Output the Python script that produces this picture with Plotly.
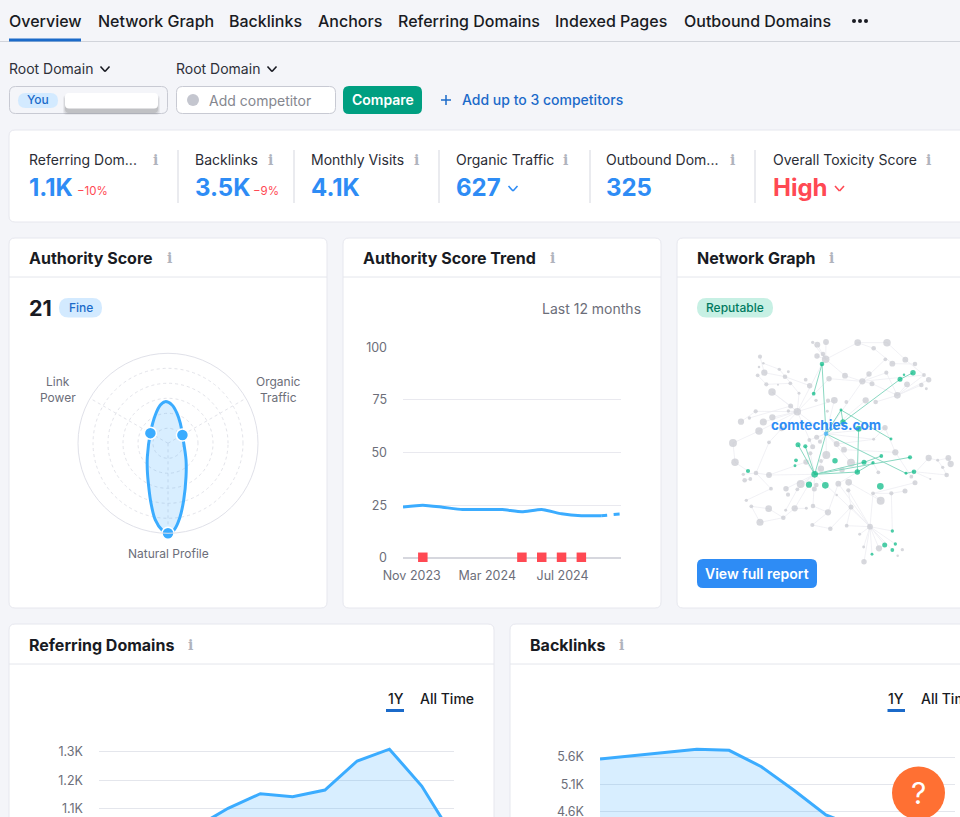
import plotly.graph_objects as go

W, H = 960, 817
FONT = "Inter"
BLUE, LINE, FILL = "#2e8cf5", "#3bacff", "rgba(59,172,255,0.2)"
NAVY, RED, INK, GREY = "#1b6ac9", "#ff4953", "#191b23", "#6c6e79"

# ---------- data ----------
radar_labels = ["Link Power", "Organic Traffic", "Natural Profile"]
radar_theta = [300, 60, 180]
radar_values = [22.6, 18.5, 100]
outline_theta = [356.3, 348.7, 335.9, 300, 237.2, 217.8, 204, 195.8, 189.4, 184, 180, 176, 171.2, 164.5, 151.6, 132.8, 60, 31.7, 16.7, 6, 356.3]
outline_r = [46.4, 43.4, 34.5, 22.6, 27.3, 37.5, 52.7, 69.3, 86.3, 96.5, 100, 96.5, 84.3, 65.3, 42.1, 27.3, 18.5, 26.1, 34.8, 42.8, 46.4]

trend_idx = [0, 1, 2, 3, 4, 5, 6, 7, 8, 9, 10]
trend_vals = [24.1, 25, 24, 22.9, 22.9, 22.9, 21.9, 22.9, 20.9, 20, 20]
trend_last_idx = [10, 11]
trend_last_vals = [20, 20.8]
flag_idx = [1, 6, 7, 8, 9]
flag_vals = [0.2, 0.2, 0.2, 0.2, 0.2]
trend_yticks = [0, 25, 50, 75, 100]
trend_xticks = [0.44, 4.25, 8.05]
trend_xlabels = ["Nov 2023", "Mar 2024", "Jul 2024"]

months = ["Oct 23", "Nov 23", "Dec 23", "Jan 24", "Feb 24", "Mar 24", "Apr 24", "May 24", "Jun 24", "Jul 24", "Aug 24", "Sep 24"]
ref_vals = [1000, 1010, 1020, 1033, 1100, 1152, 1141, 1165, 1268, 1310, 1179, 994]
ref_ticks = [1100, 1200, 1300]
ref_labels = ["1.1K", "1.2K", "1.3K"]
back_vals = [5563, 5622, 5683, 5742, 5723, 5422, 4993, 4534, 4300, 4200, 4100, 4050]
back_ticks = [4600, 5100, 5600]
back_labels = ["4.6K", "5.1K", "5.6K"]

grey_x = [368,382,408,381,399,407,503,591,551,210,220,207,223,203,268,295,285,301,229,264,246,347,359,327,378,417,465,537,517,546,589,586,607,646,675,702,716,694,709,651,622,527,557,469,433,414,302,322,295,197,178,153,220,247,207,275,412,129,135,237,198,237,160,181,164,243,288,322,294,332,358,380,368,390,361,409,440,462,483,348,393,393,456,445,476,379,373,475,440,549,604,645,675,664,616,551,585,565,572,716,743,775,782,758,770,721,483,414,369,349,314,287,280,210,236,184,169,367,421,470,509,540,521,567,637,623,522]
grey_y = [37,44,36,78,72,88,38,38,55,80,100,111,128,136,118,125,140,160,163,164,186,149,167,190,211,146,137,132,154,161,128,88,101,89,102,135,149,165,176,163,196,211,216,216,211,212,228,245,243,244,264,275,276,262,303,296,244,339,397,337,429,435,433,447,451,476,476,478,494,462,330,322,350,335,370,375,342,359,398,396,393,416,420,461,457,465,477,481,495,490,490,483,458,440,367,328,293,427,512,384,391,384,402,412,435,447,531,547,528,535,535,541,563,577,536,529,511,585,596,587,613,590,651,655,659,677,695]
grey_s = [8,14,14,13,11,18,16,18,11,10,6,6,15,9,8,7,11,9,10,5,18,9,13,7,8,13,14,13,15,12,10,9,14,14,11,9,13,11,7,14,16,15,11,9,16,10,12,18,8,10,8,15,17,15,18,12,7,19,18,9,11,14,8,9,11,9,13,9,10,19,9,12,12,10,10,19,14,14,19,13,9,15,13,14,16,11,12,10,6,9,10,12,12,9,15,7,13,9,19,15,7,14,15,8,11,5,12,15,11,7,15,7,11,17,16,9,8,10,11,9,7,14,7,15,8,6,13]
green_x = [396,371,669,630,642,453,459,506,603,324,346,318,315,374,357,406,435,522,549,574,660,502,648,672,571,174,607,584,616,607,546]
green_y = [102,191,128,148,134,240,276,296,327,344,349,391,407,433,464,466,392,397,398,378,382,426,430,425,469,423,603,645,642,660,673]
green_s = [11,9,13,12,6,7,13,14,7,12,10,9,7,16,15,16,13,12,8,9,10,13,7,11,16,10,8,12,8,9,7]
root_x = [408]
root_y = [311]
root_s = [11]
green_edges = [(396,102,371,191),(396,102,408,311),(453,240,408,311),(453,240,459,276),(453,240,603,327),(459,276,630,148),(630,148,669,128),(506,296,502,426),(408,311,374,433),(324,344,374,433),(346,349,374,433),(374,433,502,426),(374,433,522,397),(522,397,574,378),(374,433,660,382),(408,311,648,430),(648,430,672,425),(502,426,549,398),(408,311,459,276)]
grey_edges = [
 (322,245,246,186),(322,245,302,228),(322,245,295,243),(322,245,327,190),(322,245,247,262),(322,245,220,276),(322,245,207,303),(322,245,275,296),(322,245,368,350),(322,245,408,311),(322,245,433,211),(322,245,396,102),(322,245,417,146),(322,245,197,244),
 (540,590,509,613),(540,590,521,651),(540,590,567,655),(540,590,607,603),(540,590,584,645),(540,590,616,642),(540,590,607,660),(540,590,546,673),(540,590,522,695),(540,590,470,587),(540,590,440,495),(540,590,475,481),(540,590,549,490),
 (374,433,409,375),(374,433,393,416),(374,433,332,462),(374,433,348,396),(374,433,288,476),(374,433,322,478),(374,433,314,535),(374,433,369,528),(374,433,361,370),(374,433,440,495),(374,433,237,435),
 (408,311,380,322),(408,311,390,335),(408,311,440,342),(408,311,462,359),(408,311,409,375),(408,311,483,398),(408,311,358,330),(408,311,433,211),(408,311,517,154),(408,311,551,328),(408,311,585,293),(408,311,527,211),
 (622,196,651,163),(622,196,702,135),(622,196,694,165),(622,196,716,149),(622,196,589,128),(622,196,557,216),(622,196,546,161),
 (517,154,702,135),(517,154,465,137),(517,154,537,132),(517,154,589,128),(517,154,417,146),(517,154,546,161),
 (407,88,399,72),(407,88,381,78),(407,88,368,37),(407,88,382,44),(407,88,408,36),(407,88,503,38),(407,88,465,137),
 (503,38,591,38),(503,38,551,55),(591,38,646,89),(551,55,607,101),(607,101,675,102),(646,89,702,135),(586,88,517,154),
 (210,80,223,128),(220,100,268,118),(223,128,285,140),(203,136,229,163),(229,163,301,160),(246,186,302,228),(268,118,327,190),(285,140,359,167),
 (153,275,197,244),(129,339,207,303),(129,339,135,397),(135,397,174,423),(198,429,237,337),(198,429,237,435),(160,433,198,429),(164,451,181,447),(198,429,243,476),(243,476,169,511),(184,529,236,536),(236,536,280,563),(210,577,280,563),(280,563,314,535),(184,529,210,577),(287,541,322,478),(314,535,349,535),(369,528,414,547),(414,547,367,585),(367,585,421,596),(421,596,483,531),(483,531,540,590),(470,587,483,531),(414,547,445,461),(475,481,483,531),(549,490,604,490),(604,490,645,483),(604,490,607,603),(572,512,549,490),(549,490,675,458),(664,440,616,367),(616,367,585,293),(585,293,551,328),(716,384,743,391),(716,384,664,440),(743,391,775,384),(775,384,782,402),(758,412,770,435),(743,391,758,412),(721,447,672,425),(672,425,770,435),(565,427,549,398),(476,457,572,512),(445,461,540,590),(348,396,237,435),(275,296,237,337),(302,228,178,264),(462,359,616,367),(483,398,549,398),(445,461,502,426),(440,342,551,328),
]

nav_labels = ["Overview", "Network Graph", "Backlinks", "Anchors", "Referring Domains", "Indexed Pages", "Outbound Domains"]
kpi_labels = ["Referring Dom...", "Backlinks", "Monthly Visits", "Organic Traffic", "Outbound Dom...", "Overall Toxicity Score"]
kpi_values = ["1.1K", "3.5K", "4.1K", "627", "325", "High"]

# ---------- pixel helpers ----------
def px(x): return x / W
def py(y): return 1 - y / H
shapes, notes = [], []

def rrect(x0, y0, x1, y1, r, fill, line=None, lw=1, layer="below"):
    p0, q0, p1, q1 = px(x0), py(y0), px(x1), py(y1)
    rx, ry = r / W, r / H
    d = (f"M{p0+rx},{q0} L{p1-rx},{q0} Q{p1},{q0} {p1},{q0-ry} L{p1},{q1+ry} Q{p1},{q1} {p1-rx},{q1} "
         f"L{p0+rx},{q1} Q{p0},{q1} {p0},{q1+ry} L{p0},{q0-ry} Q{p0},{q0} {p0+rx},{q0} Z")
    shapes.append(dict(type="path", xref="paper", yref="paper", path=d, fillcolor=fill, layer=layer,
                       line=dict(color=line or "rgba(0,0,0,0)", width=lw if line else 0)))

def seg(x0, y0, x1, y1, color, lw=1, layer="below"):
    shapes.append(dict(type="line", xref="paper", yref="paper", x0=px(x0), y0=py(y0), x1=px(x1), y1=py(y1),
                       line=dict(color=color, width=lw), layer=layer))

def chevron(cx, cy, w, color, lw=1.6):
    seg(cx - w, cy - w * 0.55, cx, cy + w * 0.55, color, lw, "above")
    seg(cx, cy + w * 0.55, cx + w, cy - w * 0.55, color, lw, "above")

def dot(cx, cy, r, color, layer="below"):
    shapes.append(dict(type="circle", xref="paper", yref="paper", x0=px(cx - r), x1=px(cx + r), y0=py(cy - r), y1=py(cy + r),
                       fillcolor=color, line=dict(width=0), layer=layer))

def txt(x, y, s, size=14, color=INK, weight=400, anchor="left", family=FONT):
    notes.append(dict(xref="paper", yref="paper", x=px(x), y=py(y), text=s, showarrow=False, xanchor=anchor, yanchor="middle",
                      borderpad=0, borderwidth=0, font=dict(family=family, size=size, color=color, weight=weight)))

def info(x, y):
    txt(x, y, "i", 14, "#b0b3bd", 700, "center", "DejaVu Serif")

# ---------- page furniture ----------
seg(0, 41.5, W, 41.5, "#d1d4db", 1)
seg(9, 40, 81, 40, NAVY, 3)
for s, x in zip(nav_labels, [9, 98, 229, 318, 398, 555, 683.5]):
    txt(x, 21, s, 16, INK, 500)
for x in [854, 860, 866]:
    dot(x, 21, 2, INK)

for x in (9, 176):
    txt(x, 69, "Root Domain", 14, "#2e3039")
chevron(105, 69, 4.5, INK)
chevron(272, 69, 4.5, INK)
rrect(9.5, 86.5, 167.5, 113.5, 6, "#f4f5f9", "#c8cad3")
rrect(18, 93, 58, 108, 7.5, "#d3eaff")
txt(38, 100, "You", 12, NAVY, 500, "center")
for i, a in enumerate((0.05, 0.07, 0.1)):
    rrect(63 + i, 95 + i, 160 - i, 115 - i, 4, f"rgba(0,0,0,{a})")
rrect(65, 93, 158, 108.5, 4, "#ffffff")
rrect(176.5, 86.5, 335.5, 113.5, 6, "#ffffff", "#c8cad3")
dot(193, 100, 6, "#c4c6cf")
txt(209, 100.5, "Add competitor", 14, "#85878f")
rrect(343, 86, 422, 114, 6, "#009f81")
txt(382.5, 100, "Compare", 14, "#ffffff", 600, "center")
seg(441, 100, 451, 100, NAVY, 1.5)
seg(446, 95, 446, 105, NAVY, 1.5)
txt(462, 100, "Add up to 3 competitors", 14, NAVY, 500)

# KPI card
rrect(9, 130, 975, 222, 6, "#ffffff", "#e6e7ee")
for x in (178, 294, 439, 590, 755):
    seg(x, 150, x, 203, "#d5d7df", 1)
for s, v, x, ix in zip(kpi_labels, kpi_values, [29, 195, 311, 456, 606, 772.5], [155, 270, 416, 565, 732, 928]):
    txt(x, 159.5, s, 14, "#2a2c35")
    info(ix, 159.5)
    txt(x, 187.5, v, 24, RED if v == "High" else BLUE, 700)
txt(77, 191, "\u221210%", 11.5, RED)
txt(253, 191, "\u22129%", 11.5, RED)
chevron(513, 188.5, 4.5, BLUE)
chevron(839.5, 188.5, 4.5, RED)

# widget cards
for x0, x1, y0, y1, hy, title, tx, ix in [
    (9, 327, 238, 608, 277, "Authority Score", 29, 169),
    (343, 661, 238, 608, 277, "Authority Score Trend", 363, 552),
    (677, 985, 238, 608, 277, "Network Graph", 697, 831),
    (9, 494, 624, 850, 664, "Referring Domains", 29, 190),
    (510, 985, 624, 850, 664, "Backlinks", 530, 621),
]:
    rrect(x0, y0, x1, y1, 6, "#ffffff", "#e6e7ee")
    seg(x0, hy, x1, hy, "#e4e6ec", 1)
    txt(tx, (y0 + hy) / 2 + 0.5, title, 16, INK, 700)
    info(ix, (y0 + hy) / 2 + 0.5)

txt(29, 307.5, "21", 21.5, INK, 700)
rrect(59, 298, 102, 317.5, 9.5, "#d3eaff")
txt(80.5, 307.5, "Fine", 12, NAVY, 500, "center")
txt(641, 308, "Last 12 months", 14, GREY, 400, "right")
rrect(697, 298, 773, 317.5, 9.5, "#c7f0e4")
txt(735, 307.5, "Reputable", 12, "#007a5f", 500, "center")
rrect(697, 559, 817, 588, 6, BLUE, layer="above")
txt(757, 573.5, "View full report", 14, "#ffffff", 600, "center")

txt(57.5, 381.5, "Link", 12, GREY, 400, "center")
txt(57.5, 397, "Power", 12, GREY, 400, "center")
txt(278.5, 381.5, "Organic", 12, GREY, 400, "center")
txt(278.5, 397, "Traffic", 12, GREY, 400, "center")
txt(168, 553.5, "Natural Profile", 12, GREY, 400, "center")

txt(826, 425, "comtechies.com", 13.5, BLUE, 700, "center")

txt(395.5, 698, "1Y", 14, INK, 500, "center")
txt(420, 698, "All Time", 14, INK, 500)
seg(386, 710.5, 404, 710.5, NAVY, 3)
txt(896, 698, "1Y", 14, INK, 500, "center")
txt(921, 698, "All Time", 14, INK, 500)
seg(887.5, 710.5, 905, 710.5, NAVY, 3)

dot(918.5, 793, 26.5, "#ff7033", "above")
txt(918.5, 793, "?", 30, "#ffffff", 400, "center")

# ---------- traces ----------
def edge_xy(edges):
    xs, ys = [], []
    for a, b, c, d in edges:
        xs += [a, c, None]
        ys += [b, d, None]
    return xs, ys

fig = go.Figure()

fig.add_trace(go.Scatterpolar(r=outline_r, theta=outline_theta, mode="lines", fill="toself", fillcolor=FILL,
                              line=dict(color=LINE, width=3, shape="spline", smoothing=1.0), subplot="polar", hoverinfo="skip"))
fig.add_trace(go.Scatterpolar(r=radar_values, theta=radar_theta, mode="markers", text=radar_labels, subplot="polar",
                              marker=dict(size=12, color=LINE, line=dict(color="#ffffff", width=1.5)), cliponaxis=False))

fig.add_trace(go.Scatter(x=trend_idx, y=trend_vals, mode="lines", xaxis="x", yaxis="y",
                         line=dict(color=LINE, width=3, shape="spline", smoothing=0.5), cliponaxis=False))
fig.add_trace(go.Scatter(x=trend_last_idx, y=trend_last_vals, mode="lines", xaxis="x", yaxis="y",
                         line=dict(color=LINE, width=3, dash="6px,6.5px"), cliponaxis=False))
fig.add_trace(go.Scatter(x=flag_idx, y=flag_vals, mode="markers", xaxis="x", yaxis="y", cliponaxis=False,
                         marker=dict(symbol="square", size=9.5, color=RED)))
fig.add_trace(go.Scatter(x=[i - 0.19 for i in flag_idx], y=[v - 2.4 for v in flag_vals], mode="markers", xaxis="x", yaxis="y",
                         cliponaxis=False, hoverinfo="skip", marker=dict(symbol="triangle-nw", size=4, color=RED)))

gx, gy = edge_xy(grey_edges)
fig.add_trace(go.Scatter(x=gx, y=gy, mode="lines", xaxis="x2", yaxis="y2", line=dict(color="#edeef2", width=0.8), hoverinfo="skip"))
fig.add_trace(go.Scatter(x=grey_x, y=grey_y, mode="markers", xaxis="x2", yaxis="y2",
                         marker=dict(size=[v / 2.4 for v in grey_s], color="#c6c7cf", line=dict(width=0))))
gx, gy = edge_xy(green_edges)
fig.add_trace(go.Scatter(x=gx, y=gy, mode="lines", xaxis="x2", yaxis="y2", line=dict(color="#8ad8c2", width=1), hoverinfo="skip"))
fig.add_trace(go.Scatter(x=green_x, y=green_y, mode="markers", xaxis="x2", yaxis="y2",
                         marker=dict(size=[v / 2.4 for v in green_s], color="#00b881", line=dict(width=0))))
fig.add_trace(go.Scatter(x=root_x, y=root_y, mode="markers", xaxis="x2", yaxis="y2",
                         marker=dict(size=[v / 2.4 for v in root_s], color=LINE, line=dict(width=0))))

fig.add_trace(go.Scatter(x=months, y=ref_vals, mode="lines", xaxis="x3", yaxis="y3", fill="tozeroy", fillcolor=FILL,
                         line=dict(color=LINE, width=3)))
fig.add_trace(go.Scatter(x=months, y=back_vals, mode="lines", xaxis="x4", yaxis="y4", fill="tozeroy", fillcolor=FILL,
                         line=dict(color=LINE, width=3)))

# value at the bottom/top edge of each cropped plot, from the tick spacing
ref_lo = 1100 - (817 - 808.3) / 28.2 * 100
ref_hi = 1300 + (752 - 740) / 28.2 * 100
back_lo = 4600 - (817 - 811.3) / 27.15 * 500
back_hi = 5600 + (757 - 740) / 27.15 * 500

tick_font = dict(family=FONT, size=12.5, color=GREY)
def y_axis(dom, rng, vals, labels, anchor):
    return dict(domain=dom, range=rng, tickmode="array", tickvals=vals, ticktext=labels, tickfont=tick_font, ticks="", automargin=False,
                ticklabelstandoff=15, ticklabeloverflow="allow", gridcolor="#e4e6ec", gridwidth=1, zeroline=False, showline=False, anchor=anchor)

fig.update_layout(
    width=W, height=H, autosize=False, margin=dict(l=0, r=0, t=0, b=0, pad=0),
    paper_bgcolor="#f4f5f9", plot_bgcolor="rgba(0,0,0,0)", showlegend=False,
    font=dict(family=FONT), shapes=shapes, annotations=notes,
    polar=dict(domain=dict(x=[px(78), px(258)], y=[py(533.3), py(353.3)]), bgcolor="rgba(0,0,0,0)",
               radialaxis=dict(range=[0, 100], tickvals=[16.7, 33.3, 50, 66.7, 83.3], showticklabels=False, ticks="",
                               showline=False, gridcolor="#e3e4ea", griddash="dot", gridwidth=1),
               angularaxis=dict(direction="clockwise", rotation=90, tickvals=[60, 180, 300], showticklabels=False, ticks="",
                                showline=True, linecolor="#e0e1e9", linewidth=1, gridcolor="#e3e4ea", griddash="dot")),
    xaxis=dict(domain=[px(403), px(621)], range=[0, 11], tickmode="array", tickvals=trend_xticks, ticktext=trend_xlabels, automargin=False,
               tickfont=tick_font, ticks="", ticklabelstandoff=9, showgrid=False, zeroline=False, showline=False, anchor="y"),
    yaxis=dict(y_axis([py(557.7), py(347.4)], [0, 100], trend_yticks, [str(v) for v in trend_yticks], "x"),
               zeroline=True, zerolinecolor="#d6d7de", zerolinewidth=2, gridcolor="#e9e9ef"),
    xaxis2=dict(domain=[px(690), px(960)], range=[0, 810], visible=False, anchor="y2", automargin=False),
    yaxis2=dict(domain=[py(580), py(330)], range=[750, 0], visible=False, anchor="x2", automargin=False),
    xaxis3=dict(domain=[px(99), px(454)], range=[0, 11], type="category", categoryorder="array", categoryarray=months,
                visible=False, anchor="y3", automargin=False),
    yaxis3=y_axis([0, py(740)], [ref_lo, ref_hi], ref_ticks, ref_labels, "x3"),
    xaxis4=dict(domain=[px(600), px(955)], range=[0, 11], type="category", categoryorder="array", categoryarray=months,
                visible=False, anchor="y4", automargin=False),
    yaxis4=y_axis([0, py(740)], [back_lo, back_hi], back_ticks, back_labels, "x4"),
)

fig.write_html("out.html", config=dict(displayModeBar=False),
               post_script="document.body.style.margin='0';document.body.style.overflow='hidden';")
